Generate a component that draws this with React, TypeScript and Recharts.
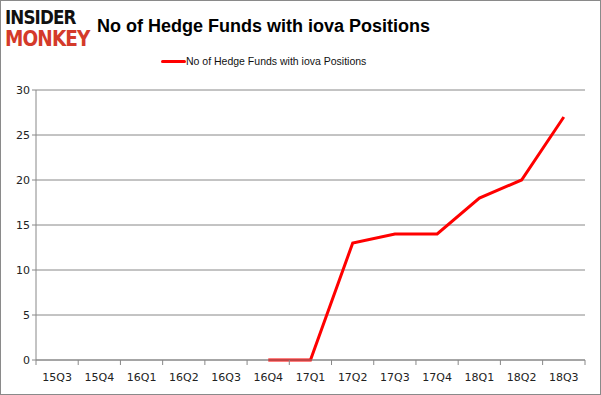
import { LineChart, Line, XAxis, YAxis, CartesianGrid } from 'recharts'

const quarters = ['15Q3', '15Q4', '16Q1', '16Q2', '16Q3', '16Q4', '17Q1', '17Q2', '17Q3', '17Q4', '18Q1', '18Q2', '18Q3']
const funds: (number | null)[] = [null, null, null, null, null, 0, 0, 13, 14, 14, 18, 20, 27]
const yTicks = [0, 5, 10, 15, 20, 25, 30]

const seriesName = 'No of Hedge Funds with iova Positions'

const data = quarters.map((q, i) => ({ q, funds: funds[i] }))

const W = 601
const H = 395
const M = { top: 89, right: 15, left: 0, bottom: 9 }
const plotW = W - 35 - M.right
const step = plotW / quarters.length

function XTick(props: any) {
  const { x, y, payload, index } = props
  const left = x - step / 2
  return (
    <g>
      <line x1={left} x2={left} y1={y - 8} y2={y - 3} stroke="#888" />
      {index === quarters.length - 1 && (
        <line x1={left + step} x2={left + step} y1={y - 8} y2={y - 3} stroke="#888" />
      )}
      <text x={x} y={y + 13} textAnchor="middle" fontSize={11} fill="#222" fontFamily="DejaVu Sans">
        {payload.value}
      </text>
    </g>
  )
}

export default function App() {
  return (
    <div style={{ position: 'absolute', left: 0, top: 0, width: W, height: H, boxSizing: 'border-box', border: '1px solid #8a8a8a', background: '#fff' }}>
      <div style={{ position: 'absolute', left: 4, top: 6, fontFamily: 'DejaVu Sans', fontWeight: 900, letterSpacing: -1, transform: 'scaleX(0.88)', transformOrigin: 'left top' }}>
        <div style={{ color: '#111', fontSize: 19, lineHeight: '21px' }}>INSIDER</div>
        <div style={{ color: '#d43a2a', fontSize: 21, lineHeight: '22px' }}>MONKEY</div>
      </div>
      <div style={{ position: 'absolute', left: 96, top: 15, fontFamily: 'Liberation Sans', fontWeight: 700, fontSize: 18, color: '#000' }}>
        {seriesName}
      </div>
      <div style={{ position: 'absolute', left: 160, top: 54, display: 'flex', alignItems: 'center', fontFamily: 'Liberation Sans', fontSize: 10.5, color: '#111' }}>
        <span style={{ display: 'inline-block', width: 25, height: 3, background: '#ff0000', borderRadius: 2 }} />
        <span>{seriesName}</span>
      </div>
      <LineChart width={W - 2} height={H - 2} data={data} margin={M} style={{ position: 'absolute', left: 0, top: 0 }}>
        <CartesianGrid vertical={false} stroke="#888" />
        <XAxis
          dataKey="q"
          interval={0}
          padding={{ left: step / 2, right: step / 2 }}
          stroke="#888"
          tickLine={false}
          tick={<XTick />}
          height={25}
        />
        <YAxis
          domain={[0, 30]}
          ticks={yTicks}
          width={35}
          stroke="#888"
          tickSize={4}
          tick={{ fontSize: 11, fill: '#222', fontFamily: 'DejaVu Sans' }}
        />
        <Line
          dataKey="funds"
          name={seriesName}
          stroke="#ff0000"
          strokeWidth={3}
          dot={false}
          isAnimationActive={false}
        />
      </LineChart>
    </div>
  )
}
